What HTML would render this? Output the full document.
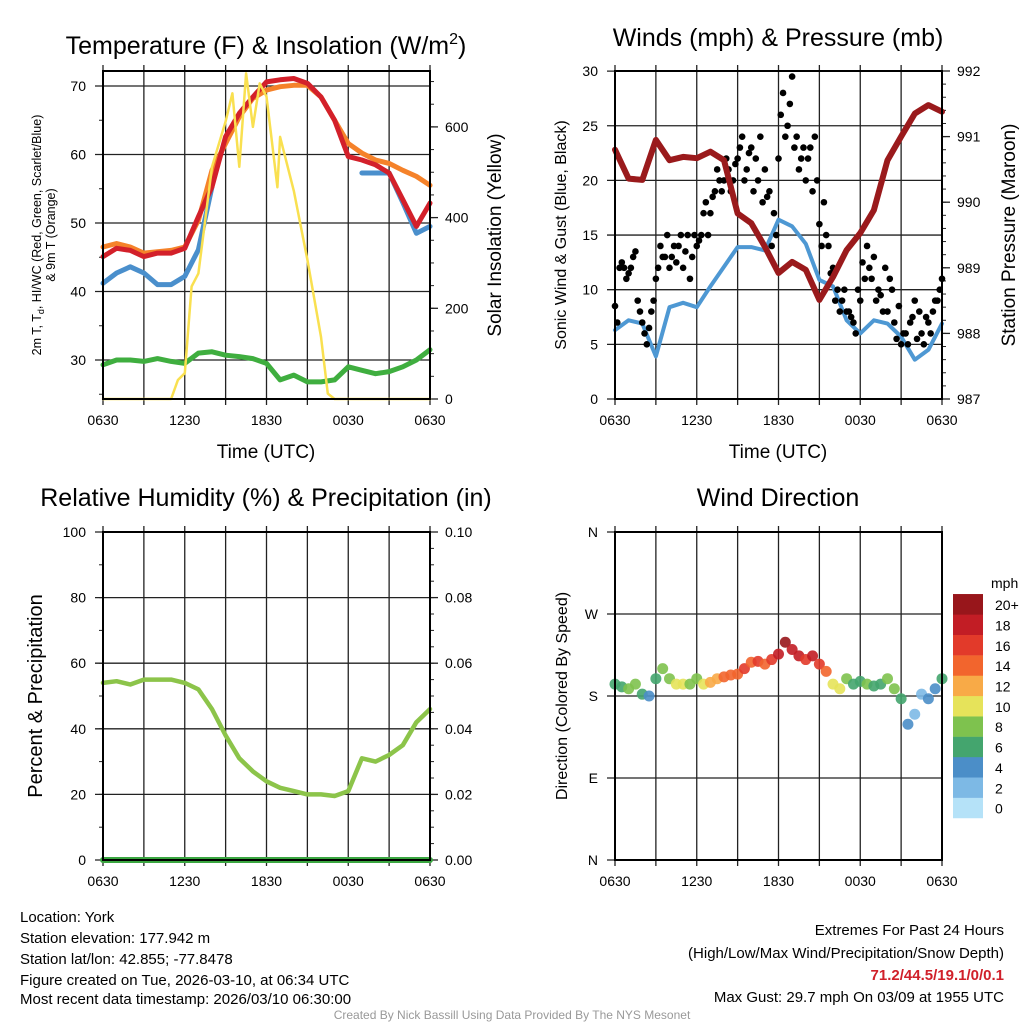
<!DOCTYPE html>
<html><head><meta charset="utf-8"><style>
html,body{margin:0;padding:0;background:#fff}
svg{display:block;font-family:"Liberation Sans",Arial,sans-serif}
</style></head><body>
<svg id="chart" width="1024" height="1024" viewBox="0 0 1024 1024">
<rect x="0" y="0" width="1024" height="1024" fill="#fff"/>
<g id="root"></g>
<text x="266" y="54" font-size="25" text-anchor="middle">Temperature (F) &amp; Insolation (W/m<tspan dy="-10" font-size="16">2</tspan><tspan dy="10">)</tspan></text>
<text x="778" y="46" font-size="25" text-anchor="middle">Winds (mph) &amp; Pressure (mb)</text>
<text x="266" y="506" font-size="25" text-anchor="middle">Relative Humidity (%) &amp; Precipitation (in)</text>
<text x="778" y="506" font-size="25" text-anchor="middle">Wind Direction</text>
<text x="266" y="458" font-size="19" text-anchor="middle">Time (UTC)</text>
<text x="778" y="458" font-size="19" text-anchor="middle">Time (UTC)</text>
<text transform="translate(41,235) rotate(-90)" font-size="12.5" text-anchor="middle">2m T, T<tspan dy="3" font-size="9">d</tspan><tspan dy="-3">, HI/WC (Red, Green, Scarlet/Blue)</tspan></text>
<text transform="translate(55,235) rotate(-90)" font-size="12.5" text-anchor="middle">&amp; 9m T (Orange)</text>
<text transform="translate(501,235) rotate(-90)" font-size="19" text-anchor="middle">Solar Insolation (Yellow)</text>
<text transform="translate(566,235) rotate(-90)" font-size="16" text-anchor="middle">Sonic Wind &amp; Gust (Blue, Black)</text>
<text transform="translate(1015,235) rotate(-90)" font-size="19" text-anchor="middle">Station Pressure (Maroon)</text>
<text transform="translate(42,696) rotate(-90)" font-size="20" text-anchor="middle">Percent &amp; Precipitation</text>
<text transform="translate(567,696) rotate(-90)" font-size="16" text-anchor="middle">Direction (Colored By Speed)</text>
<text x="991" y="588" font-size="14">mph</text>
<g font-size="15">
<text x="20" y="922">Location: York</text>
<text x="20" y="943">Station elevation: 177.942 m</text>
<text x="20" y="964">Station lat/lon: 42.855; -77.8478</text>
<text x="20" y="985">Figure created on Tue, 2026-03-10, at 06:34 UTC</text>
<text x="20" y="1004">Most recent data timestamp: 2026/03/10 06:30:00</text>
</g>
<g font-size="15" text-anchor="end">
<text x="1004" y="935">Extremes For Past 24 Hours</text>
<text x="1004" y="958">(High/Low/Max Wind/Precipitation/Snow Depth)</text>
<text x="1004" y="980" fill="#d0202a" font-weight="bold">71.2/44.5/19.1/0/0.1</text>
<text x="1004" y="1002">Max Gust: 29.7 mph On 03/09 at 1955 UTC</text>
</g>
<text x="512" y="1019" font-size="12" fill="#999" text-anchor="middle">Created By Nick Bassill Using Data Provided By The NYS Mesonet</text>
</svg>
<script>
// ---- data (hours after 0630 UTC) ----
const xTickLabels = ["0630","1230","1830","0030","0630"];
const hours = [0,1,2,3,4,5,6,7,8,9,10,11,12,13,14,15,16,17,18,19,20,21,22,23,24];
const tempRed = [45.1,46.3,46,45.1,45.6,45.6,46.3,50.9,55.3,62.6,66,68.4,70.6,70.9,71.1,70.4,68.4,65,59.7,59.2,58.5,57.3,53.4,49.5,52.9];
const temp9m = [46.5,47,46.5,45.6,45.8,46,46.5,50.4,57.7,61.6,65.5,68.2,69.4,69.9,70.1,70.1,68.4,65,61.6,60.2,59.2,58.7,57.7,56.8,55.5];
const windChill = [41.2,42.7,43.6,42.7,41,41,42.2,46.1,55.3,null,null,null,null,null,null,null,null,null,null,57.3,57.3,57.3,53,48.5,49.5];
const dewpoint = [29.3,30,30,29.8,30.2,29.8,29.5,31,31.2,30.7,30.5,30.2,29.5,27.1,27.8,26.8,26.8,27.1,29,28.5,28,28.3,29,30,31.5];
const solarHours = [0,5,5.5,6,6.5,7,8,9,9.5,10,10.5,11,11.5,12,12.8,13,14,15,16,16.5,17,24];
const solar = [0,0,42,57,248,277,512,612,674,512,718,600,696,667,467,578,459,307,137,12,0,0];
const tempTicks = [30,40,50,60,70];
const solarTicks = [0,200,400,600];
const pressure = [990.8,990.36,990.34,990.95,990.64,990.69,990.67,990.77,990.64,989.83,989.68,989.32,988.92,989.09,988.97,988.51,988.86,989.27,989.53,989.88,990.64,991.0,991.35,991.48,991.38];
const sonicWind = [6.3,7.2,6.9,3.9,8.4,8.8,8.4,10.3,12.1,13.9,13.9,13.6,16.4,15.8,14.2,10.9,10.3,7.2,6,7.2,6.9,5.7,3.6,4.5,6.9];
const gusts = [8.5,12,12,11.5,13,9,7,5,8,11,14,13,12,14,14,12,15,13,14,15,18,17,19,20,20,21,20,22,24,21,23,22,24,21,19,17,22,28,25,29.5,24,22,20,23,24,16,18,14,12,10,9,8,7.5,6,9,11,12,13,10,8,8,10,5.5,5,6,7,9,8,5,7,8,9,11];
const gusts2 = [7,12.5,11,12,13.5,8,6,6.5,9,12,13,15,13,12.5,15,13.5,11,15,14.5,17,15,18.5,21,19,22,19,21.5,23,20,22.5,19,20,18,18.5,14,15,26,24,27,23,21,23,22,19,20,14,15,11.5,9,8,10,8,7,10,12.5,14,11,9,9.5,12,11,7,8.5,6,5,7.5,5.5,6,7.5,6,9,10];
const windTicks = [0,5,10,15,20,25,30];
const pressureTicks = [987,988,989,990,991,992];
const rhHumidity = [54,54.5,53.5,55,55,55,54,52,46,38,31,27,24,22,21,20,20,19.5,21,31,30,32,35,42,46];
const precip = [0,0,0,0,0,0,0,0,0,0,0,0,0,0,0,0,0,0,0,0,0,0,0,0,0];
const rhTicks = [0,20,40,60,80,100];
const precipTicks = ["0.00","0.02","0.04","0.06","0.08","0.10"];
const windDir = [193,190,188,193,182,180,199,210,199,193,193,193,199,193,195,199,201,203,204,210,217,218,215,220,226,239,231,224,220,224,215,207,193,188,199,193,196,193,191,193,199,188,177,149,160,182,177,188,199];
const dirSpeed = [6,6.5,7,7,6,4,5,7,8,10,9,8,8,10,11,12,13,14,14,15,14,15,14,16,17,19,18,17,16,17,15,14,10,10,7,6,6,7,6,5,8,8,6,4,2,2,3,4,6];
const dirTicks = ["N","E","S","W","N"];
const cbLabels = ["0","2","4","6","8","10","12","14","16","18","20+"];
const cbColors = ["#b5e2f8","#7db9e5","#4b8ec8","#44a56e","#7ec24e","#e6e35a","#f8aa47","#f2652d","#e23a2a","#c21d25","#98161b"];

const NS="http://www.w3.org/2000/svg";
const root=document.getElementById('root');
function mk(tag,attrs,parent){const e=document.createElementNS(NS,tag);for(const k in attrs)e.setAttribute(k,attrs[k]);(parent||root).appendChild(e);return e;}

function panel(name,x0,x1,y0,y1){
  const g=mk('g',{});
  
  
  return {g,x0,x1,y0,y1,sx:h=>x0+(x1-x0)*h/24};
}
function frameAndX(p){
  for(let i=0;i<=8;i++){
    const x=p.sx(i*3);
    const l=mk('line',{x1:x,x2:x,y1:p.y0-6,y2:p.y1+6,stroke:'#222','stroke-width':1.3},p.g);
    
    
  }
  xTickLabels.forEach((t,i)=>{
    const tx=mk('text',{x:p.sx(i*6),y:p.y1+26,'font-size':14,'text-anchor':'middle'},p.g);
    tx.textContent=t;
    
    
  });
}
function hGrid(p,vals,ymap,labels){
  vals.forEach((v,i)=>{
    const y=ymap(v);
    const l=mk('line',{x1:p.x0-8,x2:p.x1,y1:y,y2:y,stroke:'#222','stroke-width':1.3},p.g);
    
    
    if(labels){
      const tx=mk('text',{x:p.x0-17,y:y+5,'font-size':14,'text-anchor':'end'},p.g);
      tx.textContent=labels[i];
      
      
    }
  });
}
function rightTicks(p,vals,ymap,labels,minorStep,lo,hi){
  for(let v=lo;v<=hi+1e-9;v+=minorStep){const y=ymap(v);if(y<p.y0-1||y>p.y1+1)continue;mk('line',{x1:p.x1,x2:p.x1+4,y1:y,y2:y,stroke:'#222','stroke-width':1},p.g);}
  vals.forEach((v,i)=>{
    const y=ymap(v);
    mk('line',{x1:p.x1,x2:p.x1+8,y1:y,y2:y,stroke:'#222','stroke-width':1.3},p.g);
    const tx=mk('text',{x:p.x1+15,y:y+5,'font-size':14},p.g);
    tx.textContent=labels[i];
    
    
  });
}
function leftMinor(p,ymap,lo,hi,step){
  for(let v=lo;v<=hi+1e-9;v+=step){const y=ymap(v);if(y<p.y0-1||y>p.y1+1)continue;mk('line',{x1:p.x0-4,x2:p.x0,y1:y,y2:y,stroke:'#222','stroke-width':1},p.g);}
}
function border(p){
  const r=mk('rect',{x:p.x0,y:p.y0,width:p.x1-p.x0,height:p.y1-p.y0,fill:'none',stroke:'#000','stroke-width':2},p.g);
  
  
}
function line(p,xs,ys,ymap,color,w,name){
  let d='',pen=false;
  ys.forEach((v,i)=>{if(v===null){pen=false;return;}d+=(pen?'L':'M')+p.sx(xs[i]).toFixed(1)+','+ymap(v).toFixed(1);pen=true;});
  const e=mk('path',{d,fill:'none',stroke:color,'stroke-width':w,'stroke-linejoin':'round','stroke-linecap':'round'},p.g);
  
  
}

// ---- Panel 1: temperature ----
const p1=panel('temperature-panel',103,430,71,399);
const tY=v=>86+(70-v)*6.85;
const sY=v=>399-v*0.4535;
frameAndX(p1);
hGrid(p1,tempTicks,tY,tempTicks.map(String));
leftMinor(p1,tY,25,70,5);
rightTicks(p1,solarTicks,sY,solarTicks.map(String),50,0,700);
line(p1,hours,dewpoint,tY,'#3fae3f',5,'dewpoint-line');
line(p1,hours,temp9m,tY,'#f5822a',5,'9m-temperature-line');
line(p1,hours,windChill,tY,'#4a8fcc',5,'wind-chill-line');
line(p1,hours,tempRed,tY,'#d3202a',5,'2m-temperature-line');
line(p1,solarHours,solar,sY,'#f9e050',2.5,'solar-insolation-line');
border(p1);

// ---- Panel 2: winds ----
const p2=panel('winds-panel',615,942,71,399);
const wY=v=>399-v*10.93;
const pY=v=>399-(v-987)*65.6;
frameAndX(p2);
hGrid(p2,windTicks,wY,windTicks.map(String));
rightTicks(p2,pressureTicks,pY,pressureTicks.map(String),0.2,987,992);
line(p2,hours,sonicWind,wY,'#4e98d3',4,'sonic-wind-line');
gusts.forEach((v,i)=>{
  const c=mk('circle',{cx:p2.sx(i/3),cy:wY(v),r:3.3,fill:'#000'},p2.g);
  
  
});
gusts2.forEach((v,i)=>{
  const c=mk('circle',{cx:p2.sx((i+0.5)/3),cy:wY(v),r:3.3,fill:'#000'},p2.g);
  
  
});
line(p2,hours,pressure,pY,'#9a1a1c',6,'pressure-line');
border(p2);

// ---- Panel 3: RH ----
const p3=panel('humidity-panel',103,430,532,860);
const rY=v=>860-v*3.28;
const prY=v=>860-v*3280;
frameAndX(p3);
hGrid(p3,rhTicks,rY,rhTicks.map(String));
leftMinor(p3,rY,0,100,10);
rightTicks(p3,rhTicks.map(v=>v/1000),prY,precipTicks,0.005,0,0.1);
line(p3,hours,rhHumidity,rY,'#8cc44a',4.5,'relative-humidity-line');
line(p3,hours,precip,prY,'#3aa640',6,'precipitation-line');
border(p3);

// ---- Panel 4: wind direction ----
const p4=panel('wind-direction-panel',615,942,532,860);
const dY=v=>860-v*0.9111;
frameAndX(p4);
hGrid(p4,[0,90,180,270,360],dY,dirTicks);
function spColor(s){let i=Math.min(10,Math.max(0,Math.round(s/2)));return cbColors[i];}
windDir.forEach((v,i)=>{
  const c=mk('circle',{cx:p4.sx(i/2),cy:dY(v),r:5.5,fill:spColor(dirSpeed[i]),'fill-opacity':0.9},p4.g);
  
  
});
border(p4);
cbColors.forEach((col,i)=>{
  const y=818-(i+1)*20.36;
  const r=mk('rect',{x:953,y:y,width:30,height:20.6,fill:col},root);
  
  
  const t=mk('text',{x:995,y:y+16,'font-size':14},root);
  t.textContent=cbLabels[i];
  
  
});
</script>
</body></html>
